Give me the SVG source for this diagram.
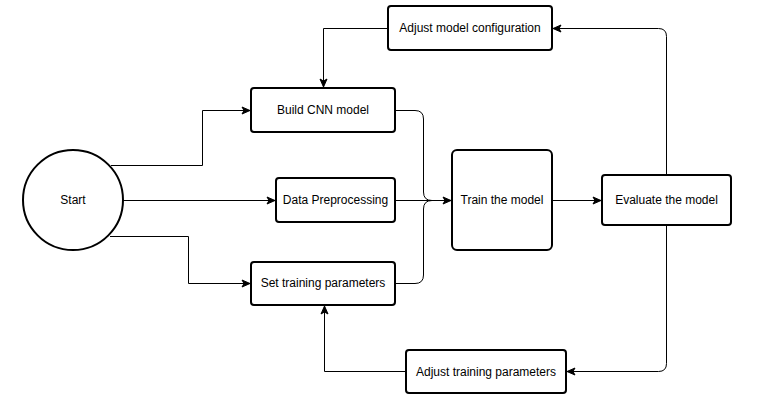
<svg xmlns="http://www.w3.org/2000/svg" width="765" height="404" viewBox="0 0 765 404">
<style>
.box{fill:#fff;stroke:#000;stroke-width:2}
.lbl{font-family:"Liberation Sans",Arial,sans-serif;font-size:12px;fill:#000;text-anchor:middle;dominant-baseline:central}
.edge{fill:none;stroke:#000;stroke-width:1}
</style>
<defs>
<marker id="arr" markerUnits="userSpaceOnUse" markerWidth="10" markerHeight="10" viewBox="0 0 10 10" refX="9" refY="5" orient="auto">
<path d="M1,1.5 L9,5 L1,8.5 L3,5 Z" fill="#000" stroke="#000" stroke-width="1"/>
</marker>
</defs>
<rect width="765" height="404" fill="#fff"/>
<g id="edges">
<path class="edge" d="M111,165.5 H202.5 V110.5 H250" marker-end="url(#arr)"/>
<path class="edge" d="M123,200.5 H275" marker-end="url(#arr)"/>
<path class="edge" d="M110,236.5 H188.5 V283.5 H250" marker-end="url(#arr)"/>
<path class="edge" d="M395,110.5 H415 Q423.5,110.5 423.5,119 V192 Q423.5,200.5 432,200.5"/>
<path class="edge" d="M395,283.5 H415 Q423.5,283.5 423.5,275 V209 Q423.5,200.5 432,200.5"/>
<path class="edge" d="M395,200.5 H451" marker-end="url(#arr)"/>
<path class="edge" d="M552,200.5 H601" marker-end="url(#arr)"/>
<path class="edge" d="M666.5,175 V36.5 Q666.5,28.5 658.5,28.5 H553" marker-end="url(#arr)"/>
<path class="edge" d="M666.5,225 V363.5 Q666.5,371.5 658.5,371.5 H567" marker-end="url(#arr)"/>
<path class="edge" d="M388,28.5 H323.5 V87" marker-end="url(#arr)"/>
<path class="edge" d="M406,371.5 H324.5 V306" marker-end="url(#arr)"/>
</g>
<g id="start">
<circle class="box" cx="73" cy="200" r="50"/>
<text class="lbl" x="73" y="200">Start</text>
</g>
<g id="build">
<rect class="box" x="251" y="88" width="144" height="44" rx="3"/>
<text class="lbl" x="323" y="110">Build CNN model</text>
</g>
<g id="preprocess">
<rect class="box" x="276" y="178" width="119" height="44" rx="3"/>
<text class="lbl" x="335.5" y="200">Data Preprocessing</text>
</g>
<g id="setparams">
<rect class="box" x="251" y="262" width="144" height="43" rx="3"/>
<text class="lbl" x="323" y="283">Set training parameters</text>
</g>
<g id="train">
<rect class="box" x="452" y="150" width="100" height="100" rx="5"/>
<text class="lbl" x="502" y="200">Train the model</text>
</g>
<g id="evaluate">
<rect class="box" x="602" y="175" width="129" height="50" rx="3"/>
<text class="lbl" x="666.5" y="200">Evaluate the model</text>
</g>
<g id="adjustconfig">
<rect class="box" x="388" y="6" width="164" height="44" rx="3"/>
<text class="lbl" x="470" y="28">Adjust model configuration</text>
</g>
<g id="adjustparams">
<rect class="box" x="406" y="350" width="160" height="43" rx="3"/>
<text class="lbl" x="486" y="372">Adjust training parameters</text>
</g>
</svg>
